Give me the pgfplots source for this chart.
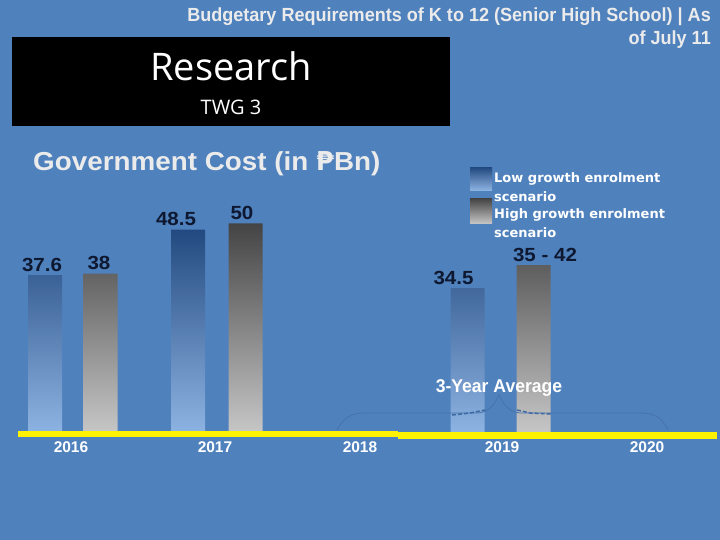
\documentclass[border=0pt]{standalone}
\usepackage{pgfplots}
\pgfplotsset{compat=1.18}
\usepackage{pgfplotstable}
\usepackage{fontspec}
\setmainfont{Liberation Sans}
\newfontfamily\gcfont[FakeStretch=1.07]{Liberation Sans}
\newfontfamily\valfont[FakeStretch=1.08]{Liberation Sans}
\newfontfamily\titlefont[FakeStretch=0.95]{Liberation Sans}
\newfontfamily\opensans{Open Sans}
\newfontfamily\dejavu{DejaVu Sans}
\definecolor{bg}{HTML}{4F81BD}
\definecolor{lowtop}{HTML}{234A80}
\definecolor{lowbot}{HTML}{8DB3E2}
\definecolor{hightop}{HTML}{444444}
\definecolor{highbot}{HTML}{C6C6C6}
\definecolor{lbl}{HTML}{0E1830}
\definecolor{ttl}{HTML}{EBEBEB}
\definecolor{bracec}{HTML}{4773AB}
\definecolor{dashc}{HTML}{3D69A3}

\pgfplotstableread[col sep=comma]{
x,y,label,dx
45,37.6,37.6,-3
188,48.5,48.5,-12
467.5,34.5,34.5,-14
}\lowtab
\pgfplotstableread[col sep=comma]{
x,y,label,dx
100.5,38,38,-1.5
245.5,50,50,-3.5
533.5,40,35 - 42,11.5
}\hightab

\begin{document}
\begin{tikzpicture}
\fill[bg] (0pt,0pt) rectangle (720pt,540pt);
% header
\fill[black] (12pt,414pt) rectangle (450pt,503pt);
\node[white, anchor=base, inner sep=0pt, font=\opensans\fontsize{38}{42}\selectfont] at (231pt,459pt) {Research};
\node[white, anchor=base, inner sep=0pt, font=\opensans\fontsize{20}{24}\selectfont] at (231pt,425pt) {TWG 3};
\node[ttl, anchor=base east, inner sep=0pt, font=\titlefont\bfseries\fontsize{19}{22}\selectfont] at (711pt,518pt) {Budgetary Requirements of K to 12 (Senior High School) | As};
\node[ttl, anchor=base east, inner sep=0pt, font=\titlefont\bfseries\fontsize{19}{22}\selectfont] at (711pt,495pt) {of July 11};
\node[ttl, anchor=base west, inner sep=0pt, font=\gcfont\bfseries\fontsize{26}{30}\selectfont] at (33pt,369pt) {Government Cost (in {\dejavu\bfseries ₱}Bn)};

\begin{axis}[
  at={(0pt,108pt)}, anchor=south west,
  x=1pt, y=4.17pt,
  xmin=0, xmax=720, ymin=0, ymax=70,
  clip=false,
  axis line style={draw=none},
  major tick length=0pt,
  ytick=\empty,
  xtick={71,215,360,502,647},
  xticklabels={2016,2017,2018,2019,2020},
  xticklabel style={white, font=\bfseries\fontsize{15.5}{18}\selectfont, yshift=-6.5pt},
  ybar, bar width=34pt, bar shift=0pt,
  point meta=explicit symbolic,
  nodes near coords,
  visualization depends on={\thisrow{dx} \as \dx},
  every node near coord/.append style={anchor=center, yshift=10.5pt, xshift=\dx,
      text=lbl, font=\valfont\bfseries\fontsize{19}{22}\selectfont},
  legend style={at={(axis cs:470,63.5)}, anchor=north west, draw=none, fill=none,
      inner sep=0pt, row sep=-6.5pt,
      font=\dejavu\bfseries\fontsize{13}{19}\selectfont, text=white,
      cells={anchor=west, align=left},
      /tikz/every even column/.append style={column sep=5pt}},
]
\addplot[draw=none, top color=lowtop, bottom color=lowbot,
  legend image code/.code={\fill[top color=lowtop, bottom color=lowbot] (0pt,-2.5pt) rectangle (22pt,20.5pt);}]
  table[x=x, y=y, meta=label] {\lowtab};
\addlegendentry{Low growth enrolment\\scenario}
\addplot[draw=none, top color=hightop, bottom color=highbot,
  legend image code/.code={\fill[top color=hightop, bottom color=highbot] (0pt,0.5pt) rectangle (22pt,25.5pt);}]
  table[x=x, y=y, meta=label] {\hightab};
\addlegendentry{High growth enrolment\\scenario}
\end{axis}

% yellow baseline
\fill[yellow] (18pt,103pt) rectangle (398pt,109pt);
\fill[yellow] (398pt,101pt) rectangle (717pt,108pt);
% 3-year average brace
\draw[bracec, line width=0.8pt] (337pt,110pt) .. controls (345pt,124pt) and (352pt,127pt) .. (365pt,127pt)
  -- (478pt,127pt) .. controls (490pt,128pt) and (495pt,137pt) .. (499pt,145pt)
  .. controls (503pt,137pt) and (508pt,128pt) .. (520pt,127pt) -- (640pt,127pt)
  .. controls (655pt,127pt) and (662pt,122pt) .. (668pt,110pt);
\draw[dashc, line width=1.5pt, dash pattern=on 4pt off 2pt] (452pt,125pt) -- (470pt,127pt) -- (485pt,130pt);
\draw[dashc, line width=1.5pt, dash pattern=on 4pt off 2pt] (517pt,130pt) -- (530pt,127pt) -- (552pt,126pt);
\node[white, anchor=center, inner sep=0pt, font=\titlefont\bfseries\fontsize{18.5}{22}\selectfont] at (499pt,152pt) {3-Year Average};

\pgfresetboundingbox
\useasboundingbox (0pt,0pt) rectangle (720pt,540pt);
\end{tikzpicture}
\end{document}
